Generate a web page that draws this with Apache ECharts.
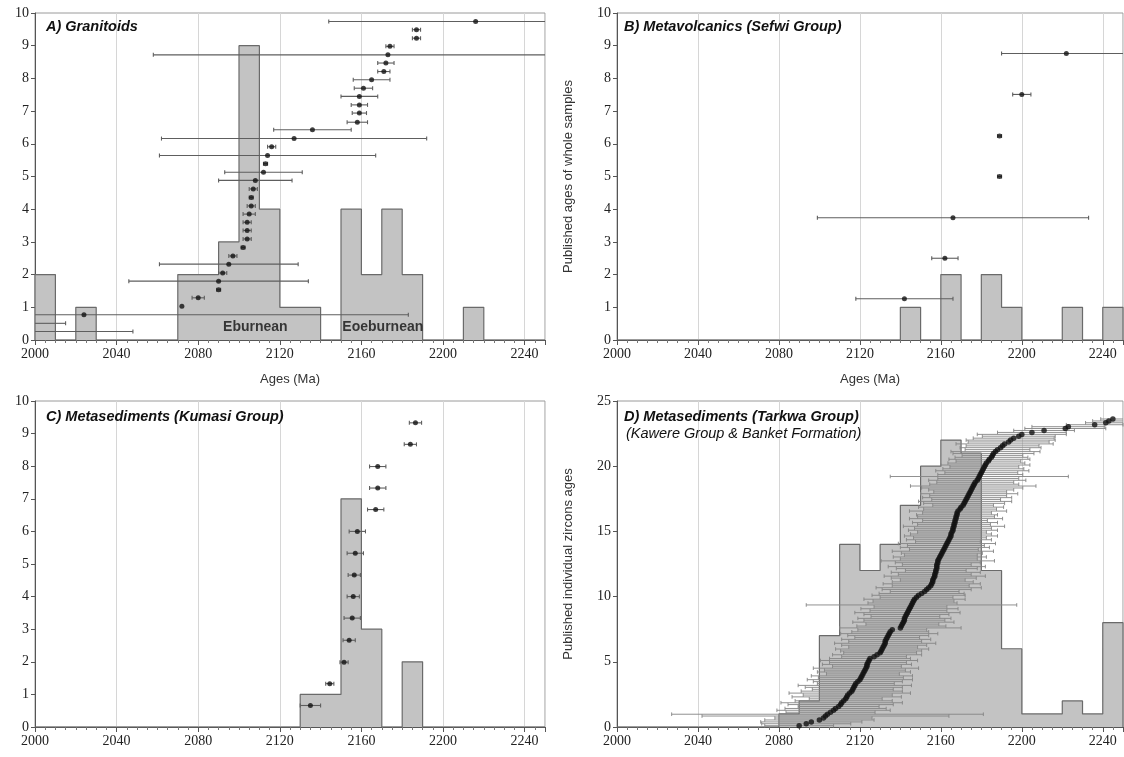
<!DOCTYPE html>
<html><head><meta charset="utf-8">
<script src="https://cdn.jsdelivr.net/npm/echarts@6/dist/echarts.min.js"></script>
<style>html,body{margin:0;padding:0;background:#fff}#c{width:1124px;height:757px}</style>
</head><body><div id="c"></div>
<script>
// ---------- DATA ----------
const binStarts = [2000,2010,2020,2030,2040,2050,2060,2070,2080,2090,2100,2110,2120,2130,2140,2150,2160,2170,2180,2190,2200,2210,2220,2230,2240];
const binEnd = 2250;

const histA = [2,0,1,0,0,0,0,2,2,3,9,4,1,1,0,4,2,4,2,0,0,1,0,0,0];
const histB = [0,0,0,0,0,0,0,0,0,0,0,0,0,0,1,0,2,0,2,1,0,0,1,0,1];
const histC = [0,0,0,0,0,0,0,0,0,0,0,0,0,1,1,7,3,0,2,0,0,0,0,0,0];
const histD = [0,0,0,0,0,0,0,0,1,2,7,14,12,14,17,20,22,21,12,6,1,1,2,1,8];

// Panel A: granitoid ages (Ma), plotting rank, 2-sigma error (Ma)
const aAges   = [2216,2187,2187,2174,2173,2172,2171,2165,2161,2159,2159,2159,2158,2136,2127,2116,2114,2113,2112,2108,2107,2106,2106,2105,2104,2104,2104,2102,2097,2095,2092,2090,2090,2080,2072,2024,1990,1990];
const aRanks  = [9.74,9.49,9.23,8.98,8.72,8.47,8.21,7.96,7.70,7.45,7.19,6.94,6.66,6.43,6.16,5.91,5.64,5.39,5.13,4.88,4.62,4.36,4.10,3.85,3.60,3.35,3.09,2.83,2.57,2.32,2.05,1.80,1.54,1.29,1.03,0.77,0.51,0.26];
const aErrors = [72,2,2,2,115,4,3,9,4.5,9,4,3.5,5,19,65,2,53,1,19,18,2,1,2,3,2,2,2,1,2,34,2,44,1,3,0,159,25,58];

// Panel B: metavolcanics
const bAges   = [2222,2200,2189,2189,2166,2162,2142];
const bRanks  = [8.76,7.51,6.24,5.00,3.74,2.50,1.26];
const bErrors = [32,4.5,1,1,67,6.5,24];

// Panel C: Kumasi metasediments
const cAges   = [2135,2144.5,2151.5,2154,2155.5,2156,2156.5,2157,2158,2167,2168,2168,2184,2186.5];
const cRanks  = [0.66,1.33,1.99,2.66,3.34,4.00,4.66,5.33,6.00,6.67,7.33,7.99,8.67,9.33];
const cErrors = [5,2,2,3,4,3,3,4,4,4,4,4,3,3];

// Panel D: Tarkwa detrital zircons
const dAges = [
 2090,2093.5,2096,2100,2102,2103,2104,2105.5,2107,2108,
 2109.5,2110.5,2111,2112,2113,2113.5,2114,2115,2116,2116.5,
 2117,2117.5,2118,2119,2120,2120.5,2121,2121.5,2122,2122.5,
 2123,2123.5,2123.5,2124,2124.5,2125,2127,2128.5,2130,2130.5,
 2131,2131.5,2132,2132.5,2132.5,2133,2133.5,2134,2134.5,2135,
 2136,2140,2140.5,2141,2141.5,2142,2142,2142.5,2143,2143.5,
 2144,2144.5,2145,2145.5,2146,2146.5,2147,2148,2149,2150.5,
 2152,2153,2154,2155,2155.5,2156,2156,2156.5,2157,2157,
 2157.5,2157.5,2158,2158,2158,2158.5,2158.5,2159,2159.5,2160,
 2160.5,2161,2161.5,2162,2162.5,2163,2163.5,2164,2164.5,2165,
 2165,2165.5,2166,2166,2166.5,2166.5,2167,2167,2167.5,2167.5,
 2168,2168,2168.5,2169.5,2170,2171,2171.5,2172,2172.5,2173,
 2173.5,2174,2174.5,2175,2175.5,2176,2176.5,2177,2178,2178.5,
 2179,2179.5,2180,2180.5,2181,2181.5,2182,2182.5,2183.5,2184,
 2185,2185.5,2186,2187,2188,2189.5,2190.5,2191.5,2193.5,2194.5,
 2196,2198.5,2200,2205,2211,2221.5,2223,2236,2241.5,2243,
 2245];
const dRanks = [
 0.10,0.25,0.39,0.54,0.69,0.84,0.98,1.13,1.28,1.42,
 1.57,1.72,1.86,2.01,2.16,2.31,2.45,2.60,2.75,2.89,
 3.04,3.19,3.33,3.48,3.63,3.78,3.92,4.07,4.22,4.36,
 4.51,4.66,4.80,4.95,5.10,5.25,5.39,5.54,5.69,5.83,
 5.98,6.13,6.27,6.42,6.57,6.72,6.86,7.01,7.16,7.30,
 7.45,7.60,7.74,7.89,8.04,8.19,8.33,8.48,8.63,8.77,
 8.92,9.07,9.21,9.36,9.51,9.66,9.80,9.95,10.10,10.24,
 10.39,10.54,10.68,10.83,10.98,11.13,11.27,11.42,11.57,11.71,
 11.86,12.01,12.15,12.30,12.45,12.60,12.74,12.89,13.04,13.18,
 13.33,13.48,13.62,13.77,13.92,14.07,14.21,14.36,14.51,14.65,
 14.80,14.95,15.09,15.24,15.39,15.54,15.68,15.83,15.98,16.12,
 16.27,16.42,16.56,16.71,16.86,17.01,17.15,17.30,17.45,17.59,
 17.74,17.89,18.03,18.18,18.33,18.48,18.62,18.77,18.92,19.06,
 19.21,19.36,19.50,19.65,19.80,19.95,20.09,20.24,20.39,20.53,
 20.68,20.83,20.97,21.12,21.27,21.42,21.56,21.71,21.86,22.00,
 22.15,22.30,22.44,22.59,22.74,22.89,23.03,23.18,23.33,23.47,
 23.62];
const dErrors = [
 17,22,25,27,24,61,77,22,28,25,
 20,26,30,24,18,27,22,30,25,20,
 24,28,19,22,26,21,25,18,23,20,
 26,17,22,19,24,20,16,22,18,20,
 23,17,21,25,18,22,16,20,24,19,
 17,30,22,18,25,20,23,17,21,26,
 19,24,18,52,22,20,25,18,23,21,
 17,22,26,19,24,20,16,21,25,18,
 22,15,20,24,17,21,28,19,23,18,
 20,25,17,22,19,24,16,21,18,23,
 20,17,22,19,25,18,21,16,23,19,
 20,17,24,18,21,15,20,23,17,22,
 19,24,18,21,25,31,22,19,24,20,
 44,21,18,23,20,17,22,19,16,20,
 18,15,20,22,16,20,18,24,20,22,
 20,18,22,17,15,20,18,14,10,8,
 6];

const orogenyLabels = [[2108,0.4,'Eburnean'],[2170.5,0.4,'Eoeburnean']];

const panelTitles = ['A) Granitoids','B) Metavolcanics (Sefwi Group)','C) Metasediments (Kumasi Group)','D) Metasediments (Tarkwa Group)'];
const panelSubtitleD = '(Kawere Group & Banket Formation)';
const xName = 'Ages (Ma)';
const yNameB = 'Published ages of whole samples';
const yNameD = 'Published individual zircons ages';

// ---------- HELPERS ----------
function stepData(counts){
  const d = [[binStarts[0],0]];
  counts.forEach((c,i)=>d.push([binStarts[i],c]));
  d.push([binEnd,0]);
  return d;
}
function zip3(a,r,e){
  const n=Math.min(a.length,r.length,e.length), out=[];
  for(let i=0;i<n;i++) out.push([a[i],r[i],e[i]]);
  return out;
}
function makeErrRender(color, width, cap){
  return function(params, api){
    const x=api.value(0), y=api.value(1), e=api.value(2);
    if(!(e>0)) return null;
    const cs=params.coordSys;
    const p1=api.coord([x-e,y]), p2=api.coord([x+e,y]);
    const L=cs.x, R=cs.x+cs.width;
    const xl=Math.max(L,p1[0]), xr=Math.min(R,p2[0]);
    if(xr<=xl) return null;
    const st={stroke:color,lineWidth:width};
    const ch=[{type:'line',shape:{x1:xl,y1:p1[1],x2:xr,y2:p1[1]},style:st}];
    if(p1[0]>=L) ch.push({type:'line',shape:{x1:p1[0],y1:p1[1]-cap,x2:p1[0],y2:p1[1]+cap},style:st});
    if(p2[0]<=R) ch.push({type:'line',shape:{x1:p2[0],y1:p2[1]-cap,x2:p2[0],y2:p2[1]+cap},style:st});
    return {type:'group',children:ch};
  };
}

const grids = [
  {left:35, top:13, width:510, height:327},
  {left:617, top:13, width:506, height:327},
  {left:35, top:401, width:510, height:326},
  {left:617, top:401, width:506, height:326}
].map(g=>Object.assign({show:true,borderColor:'#9a9a9a',borderWidth:1,backgroundColor:'transparent',containLabel:false,outerBoundsMode:'none'},g));

const serif='"Liberation Serif","DejaVu Serif",serif';
const sans='"Liberation Sans",Arial,sans-serif';

function xAxisCfg(i, named){
  return {
    type:'value', gridIndex:i, min:2000, max:2250, interval:40,
    name: named? xName : '', nameLocation:'middle', nameGap:33,
    nameTextStyle:{fontFamily:sans,fontSize:13,color:'#333'},
    axisLine:{show:true,lineStyle:{color:'#555',width:1}},
    axisTick:{show:true,length:5,lineStyle:{color:'#555'}},
    minorTick:{show:true,splitNumber:8,length:3,lineStyle:{color:'#777'}},
    splitLine:{show:true,lineStyle:{color:'#d6d6d6',width:1}},
    axisLabel:{fontFamily:serif,fontSize:14,color:'#222',margin:7,showMaxLabel:false,
      formatter:v=> v>2240 ? '' : String(v)}
  };
}
function yAxisCfg(i, max, interval, name){
  return {
    type:'value', gridIndex:i, min:0, max:max, interval:interval,
    name: name||'', nameLocation:'middle', nameGap:42,
    nameTextStyle:{fontFamily:sans,fontSize:13,color:'#333'},
    axisLine:{show:true,lineStyle:{color:'#555',width:1}},
    axisTick:{show:true,length:4,lineStyle:{color:'#555'}},
    splitLine:{show:false},
    axisLabel:{fontFamily:serif,fontSize:14,color:'#222',margin:6}
  };
}

const hists=[histA,histB,histC,histD];
const pts=[zip3(aAges,aRanks,aErrors),zip3(bAges,bRanks,bErrors),zip3(cAges,cRanks,cErrors),zip3(dAges,dRanks,dErrors)];
const errStyles=[['#5e5e5e',1.1,2],['#5e5e5e',1.1,2],['#5e5e5e',1.1,2],['#858585',0.9,1.8]];
const dotSizes=[5,5,5,5.5];

const series=[];
for(let i=0;i<4;i++){
  series.push({type:'line',xAxisIndex:i,yAxisIndex:i,data:stepData(hists[i]),step:'end',
    symbol:'none',lineStyle:{color:'#6a6a6a',width:1.2},areaStyle:{color:'#c3c3c3',opacity:1},
    z:1,silent:true,animation:false});
  series.push({type:'custom',xAxisIndex:i,yAxisIndex:i,data:pts[i],
    renderItem:makeErrRender(errStyles[i][0],errStyles[i][1],errStyles[i][2]),
    encode:{x:[0],y:1},z:3,silent:true,animation:false});
  series.push({type:'scatter',xAxisIndex:i,yAxisIndex:i,data:pts[i].map(p=>[p[0],p[1]]),
    symbol:'circle',symbolSize:dotSizes[i],itemStyle:{color:'#111'},z:4,silent:true,animation:false});
}
series.push({type:'scatter',xAxisIndex:0,yAxisIndex:0,data:orogenyLabels,symbolSize:0,z:5,silent:true,
  label:{show:true,position:'inside',formatter:p=>p.data[2],fontFamily:sans,fontWeight:'bold',fontSize:14,color:'#111'},
  animation:false});

const titleStyle={fontFamily:sans,fontStyle:'italic',fontWeight:'bold',fontSize:14.5,color:'#111'};
const option={
  animation:false,
  backgroundColor:'#fff',
  title:[
    {text:panelTitles[0],left:46,top:19,padding:0,textStyle:titleStyle},
    {text:panelTitles[1],left:624,top:19,padding:0,textStyle:titleStyle},
    {text:panelTitles[2],left:46,top:409,padding:0,textStyle:titleStyle},
    {text:panelTitles[3],left:624,top:409,padding:0,textStyle:titleStyle},
    {text:panelSubtitleD,left:626,top:426,padding:0,textStyle:{fontFamily:sans,fontStyle:'italic',fontWeight:'normal',fontSize:14.5,color:'#111'}}
  ],
  grid:grids,
  xAxis:[xAxisCfg(0,true),xAxisCfg(1,true),xAxisCfg(2,false),xAxisCfg(3,false)],
  yAxis:[yAxisCfg(0,10,1),yAxisCfg(1,10,1,yNameB),yAxisCfg(2,10,1),yAxisCfg(3,25,5,yNameD)],
  series:series
};
const chart=echarts.init(document.getElementById('c'),null,{renderer:'canvas'});
chart.setOption(option);
</script></body></html>
